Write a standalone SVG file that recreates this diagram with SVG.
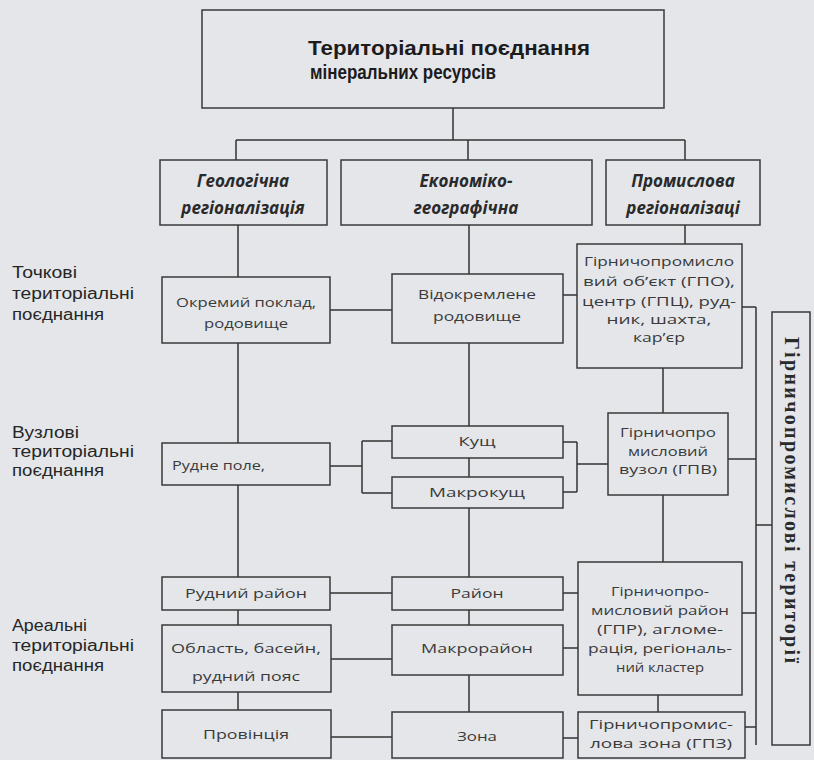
<svg xmlns="http://www.w3.org/2000/svg" width="814" height="760" viewBox="0 0 814 760">
<style>
.bg{fill:#e4e6ea}
.box{fill:none;stroke:#3a3a3a;stroke-width:1.5}
.ln{fill:none;stroke:#333;stroke-width:1.5}
.title{font-family:"Liberation Sans",Arial,sans-serif;font-weight:bold;font-size:21px;fill:#1c1c1c}
.cat{font-family:"Open Sans","Liberation Sans",sans-serif;font-weight:bold;font-style:italic;font-size:17px;fill:#2a2a2a;text-anchor:middle}
.lab{font-family:"Liberation Sans",Arial,sans-serif;font-size:16px;fill:#262626}
.t{font-family:"Open Sans","Liberation Sans",sans-serif;font-size:13px;fill:#3a3a3a;text-anchor:middle}
.band{font-family:"Liberation Serif","Times New Roman",serif;font-weight:bold;font-size:20px;fill:#2a2a2a;text-anchor:middle}
</style>
<rect class="bg" x="0" y="0" width="814" height="760"/>

<g id="connectors">
<path class="ln" d="M453 108V140M236 140H685M236 140V160M468 140V160M685 140V160"/>
<path class="ln" d="M238 225V277M238 343V443M238 485V577M238 610V625M238 692V710"/>
<path class="ln" d="M469 225V274M469 343V426M469 458V477M469 508V577M469 610V625M469 675V712"/>
<path class="ln" d="M685 225V244M663 368V413M663 495V562M658 695V712"/>
<path class="ln" d="M330 310H392M563 295H577"/>
<path class="ln" d="M330 466H362M362 441V493M362 441H392M362 493H392"/>
<path class="ln" d="M563 442H577M563 492H577M577 442V492M577 464H608"/>
<path class="ln" d="M330 593H392M563 593H578M563 648H578M331 659H392M331 737H392M563 738H578"/>
<path class="ln" d="M756 307V745M742 307H756M728 459H756M742 613H756M745 727H756M756 525H772"/>
</g>

<g id="title">
<rect class="box" x="202" y="10" width="462" height="98"/>
<text class="title" x="308" y="55" textLength="282" lengthAdjust="spacingAndGlyphs">Територіальні поєднання</text>
<text class="title" x="310" y="79" textLength="186" lengthAdjust="spacingAndGlyphs">мінеральних ресурсів</text>
</g>

<g id="cat-geo">
<rect class="box" x="160" y="160" width="167" height="65"/>
<text class="cat" x="243" y="187">Геологічна</text>
<text class="cat" x="243" y="214">регіоналізація</text>
</g>
<g id="cat-econ">
<rect class="box" x="341" y="160" width="251" height="65"/>
<text class="cat" x="466" y="187">Економіко-</text>
<text class="cat" x="466" y="214">географічна</text>
</g>
<g id="cat-prom">
<rect class="box" x="606" y="160" width="154" height="65"/>
<text class="cat" x="683" y="187">Промислова</text>
<text class="cat" x="683" y="214">регіоналізаці</text>
</g>

<g id="label-point">
<text class="lab" x="12" y="278" textLength="65" lengthAdjust="spacingAndGlyphs">Точкові</text>
<text class="lab" x="12" y="299" textLength="122" lengthAdjust="spacingAndGlyphs">територіальні</text>
<text class="lab" x="12" y="320" textLength="92" lengthAdjust="spacingAndGlyphs">поєднання</text>
</g>
<g id="label-node">
<text class="lab" x="12" y="438" textLength="67" lengthAdjust="spacingAndGlyphs">Вузлові</text>
<text class="lab" x="12" y="457" textLength="122" lengthAdjust="spacingAndGlyphs">територіальні</text>
<text class="lab" x="12" y="476" textLength="92" lengthAdjust="spacingAndGlyphs">поєднання</text>
</g>
<g id="label-area">
<text class="lab" x="12" y="631" textLength="75" lengthAdjust="spacingAndGlyphs">Ареальні</text>
<text class="lab" x="12" y="651" textLength="122" lengthAdjust="spacingAndGlyphs">територіальні</text>
<text class="lab" x="12" y="671" textLength="92" lengthAdjust="spacingAndGlyphs">поєднання</text>
</g>

<g id="n-okremyi">
<rect class="box" x="162" y="277" width="168" height="66"/>
<text class="t" x="246" y="307" textLength="140" lengthAdjust="spacingAndGlyphs">Окремий поклад,</text>
<text class="t" x="246" y="328" textLength="84" lengthAdjust="spacingAndGlyphs">родовище</text>
</g>
<g id="n-rudne-pole">
<rect class="box" x="162" y="443" width="168" height="42"/>
<text class="t" x="172" y="470" style="text-anchor:start" textLength="93" lengthAdjust="spacingAndGlyphs">Рудне поле,</text>
</g>
<g id="n-rudnyi-raion">
<rect class="box" x="162" y="577" width="168" height="33"/>
<text class="t" x="246" y="598" textLength="122" lengthAdjust="spacingAndGlyphs">Рудний район</text>
</g>
<g id="n-oblast">
<rect class="box" x="162" y="625" width="169" height="67"/>
<text class="t" x="246" y="653" textLength="150" lengthAdjust="spacingAndGlyphs">Область, басейн,</text>
<text class="t" x="246" y="681" textLength="108" lengthAdjust="spacingAndGlyphs">рудний пояс</text>
</g>
<g id="n-provintsiia">
<rect class="box" x="162" y="710" width="169" height="48"/>
<text class="t" x="246" y="739" textLength="86" lengthAdjust="spacingAndGlyphs">Провінція</text>
</g>

<g id="n-vidokremlene">
<rect class="box" x="392" y="274" width="171" height="69"/>
<text class="t" x="477" y="299" textLength="118" lengthAdjust="spacingAndGlyphs">Відокремлене</text>
<text class="t" x="477" y="321" textLength="88" lengthAdjust="spacingAndGlyphs">родовище</text>
</g>
<g id="n-kushch">
<rect class="box" x="392" y="426" width="171" height="32"/>
<text class="t" x="477" y="446" textLength="37" lengthAdjust="spacingAndGlyphs">Кущ</text>
</g>
<g id="n-makrokushch">
<rect class="box" x="392" y="477" width="171" height="31"/>
<text class="t" x="477" y="497" textLength="96" lengthAdjust="spacingAndGlyphs">Макрокущ</text>
</g>
<g id="n-raion">
<rect class="box" x="392" y="577" width="171" height="33"/>
<text class="t" x="477" y="598" textLength="53" lengthAdjust="spacingAndGlyphs">Район</text>
</g>
<g id="n-makroraion">
<rect class="box" x="392" y="625" width="171" height="50"/>
<text class="t" x="477" y="653" textLength="112" lengthAdjust="spacingAndGlyphs">Макрорайон</text>
</g>
<g id="n-zona">
<rect class="box" x="392" y="712" width="171" height="46"/>
<text class="t" x="477" y="741" textLength="40" lengthAdjust="spacingAndGlyphs">Зона</text>
</g>

<g id="n-gpo">
<rect class="box" x="577" y="244" width="165" height="124"/>
<text class="t" x="659" y="266" textLength="150" lengthAdjust="spacingAndGlyphs">Гірничопромисло</text>
<text class="t" x="659" y="286" textLength="152" lengthAdjust="spacingAndGlyphs">вий об’єкт (ГПО),</text>
<text class="t" x="659" y="306" textLength="154" lengthAdjust="spacingAndGlyphs">центр (ГПЦ), руд-</text>
<text class="t" x="659" y="324" textLength="105" lengthAdjust="spacingAndGlyphs">ник, шахта,</text>
<text class="t" x="659" y="342" textLength="52" lengthAdjust="spacingAndGlyphs">кар’єр</text>
</g>
<g id="n-gpv">
<rect class="box" x="608" y="413" width="120" height="82"/>
<text class="t" x="668" y="437" textLength="96" lengthAdjust="spacingAndGlyphs">Гірничопро</text>
<text class="t" x="668" y="456" textLength="80" lengthAdjust="spacingAndGlyphs">мисловий</text>
<text class="t" x="668" y="474" textLength="98" lengthAdjust="spacingAndGlyphs">вузол (ГПВ)</text>
</g>
<g id="n-gpr">
<rect class="box" x="578" y="562" width="164" height="133"/>
<text class="t" x="660" y="596" textLength="98" lengthAdjust="spacingAndGlyphs">Гірничопро-</text>
<text class="t" x="660" y="615" textLength="138" lengthAdjust="spacingAndGlyphs">мисловий район</text>
<text class="t" x="660" y="634" textLength="126" lengthAdjust="spacingAndGlyphs">(ГПР), агломе-</text>
<text class="t" x="660" y="653" textLength="144" lengthAdjust="spacingAndGlyphs">рація, регіональ-</text>
<text class="t" x="660" y="672" textLength="88" lengthAdjust="spacingAndGlyphs">ний кластер</text>
</g>
<g id="n-gpz">
<rect class="box" x="578" y="712" width="167" height="46"/>
<text class="t" x="661" y="729" textLength="144" lengthAdjust="spacingAndGlyphs">Гірничопромис-</text>
<text class="t" x="661" y="748" textLength="142" lengthAdjust="spacingAndGlyphs">лова зона (ГПЗ)</text>
</g>

<g id="band">
<rect class="box" x="772" y="312" width="38" height="433"/>
<text class="band" transform="translate(792,500) rotate(90)" dominant-baseline="central" textLength="326" lengthAdjust="spacing">Гірничопромислові території</text>
</g>
</svg>
